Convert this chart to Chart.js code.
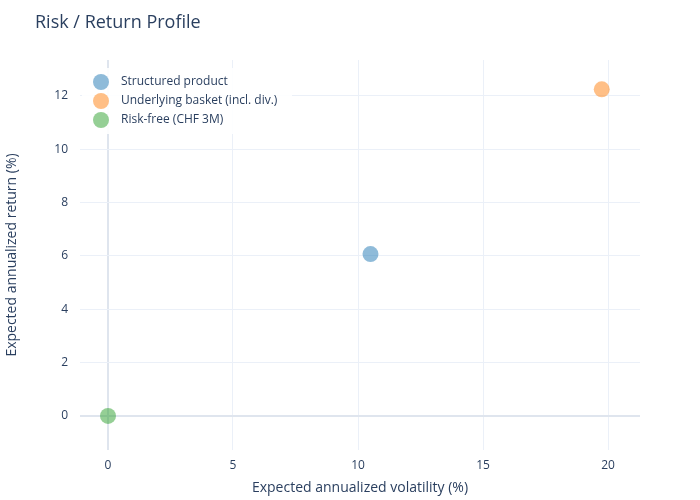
<!DOCTYPE html>
<html><head><meta charset="utf-8">
<script src="https://cdn.jsdelivr.net/npm/chart.js@4"></script>
<style>html,body{margin:0;padding:0;background:#fff}#w{width:700px;height:500px}</style>
</head><body><div id="w"><canvas id="c"></canvas></div>
<script>
const seriesNames = ["Structured product", "Underlying basket (incl. div.)", "Risk-free (CHF 3M)"];
const volatility = [10.5, 19.75, 0];
const returns = [6.07, 12.25, 0];
const colors = ["rgba(31,119,180,0.5)", "rgba(255,127,14,0.5)", "rgba(44,160,44,0.5)"];
const xTicks = [0, 5, 10, 15, 20];
const yTicks = [0, 2, 4, 6, 8, 10, 12];
const txt = "#2a3f5f", font = "'Open Sans', sans-serif";

const overlay = {
  id: 'overlay',
  afterDraw(ch) {
    const c = ch.ctx, a = ch.chartArea;
    c.save();
    c.fillStyle = txt; c.font = "18px " + font; c.textBaseline = "middle";
    c.fillText("Risk / Return Profile", 35, 23);
    c.fillStyle = "rgba(255,255,255,0.9)";
    c.fillRect(a.left + 2, a.top + 8, 210, 66);
    c.font = "12px " + font;
    seriesNames.forEach((n, i) => {
      const y = a.top + 22 + i * 19;
      c.beginPath(); c.arc(a.left + 21, y, 8, 0, Math.PI * 2);
      c.fillStyle = colors[i]; c.fill();
      c.fillStyle = txt; c.fillText(n, a.left + 41, y);
    });
    c.restore();
  }
};

new Chart(document.getElementById('c'), {
  type: 'scatter',
  data: { datasets: seriesNames.map((n, i) => ({
    label: n, data: [{x: volatility[i], y: returns[i]}],
    backgroundColor: colors[i], borderWidth: 0, pointRadius: 8, pointHoverRadius: 8 })) },
  options: {
    responsive: true, maintainAspectRatio: false, animation: false,
    layout: { padding: { top: 60, right: 60, left: 0, bottom: 0 } },
    plugins: { legend: { display: false }, tooltip: { enabled: false } },
    scales: {
      x: { min: -1.12, max: 21.28,
        afterBuildTicks: s => { s.ticks = xTicks.map(v => ({value: v})); },
        afterFit: s => { s.height = 50; },
        grid: { color: c => c.tick && c.tick.value === 0 ? '#dfe5ee' : '#ebf0f8', lineWidth: c => c.tick && c.tick.value === 0 ? 2 : 1, drawTicks: false },
        border: { display: false },
        ticks: { color: txt, font: { family: font, size: 12 }, padding: 8 },
        title: { display: true, text: "Expected annualized volatility (%)", color: txt, font: { family: font, size: 14 }, padding: { top: 6 } } },
      y: { min: -1.28, max: 13.35,
        afterBuildTicks: s => { s.ticks = yTicks.map(v => ({value: v})); },
        afterFit: s => { s.width = 80; },
        grid: { color: c => c.tick && c.tick.value === 0 ? '#dfe5ee' : '#ebf0f8', lineWidth: c => c.tick && c.tick.value === 0 ? 2 : 1, drawTicks: false },
        border: { display: false },
        ticks: { color: txt, font: { family: font, size: 12 }, padding: 12 },
        title: { display: true, text: "Expected annualized return (%)", color: txt, font: { family: font, size: 14 }, padding: { bottom: 8 } } }
    }
  },
  plugins: [overlay]
});
</script></body></html>
